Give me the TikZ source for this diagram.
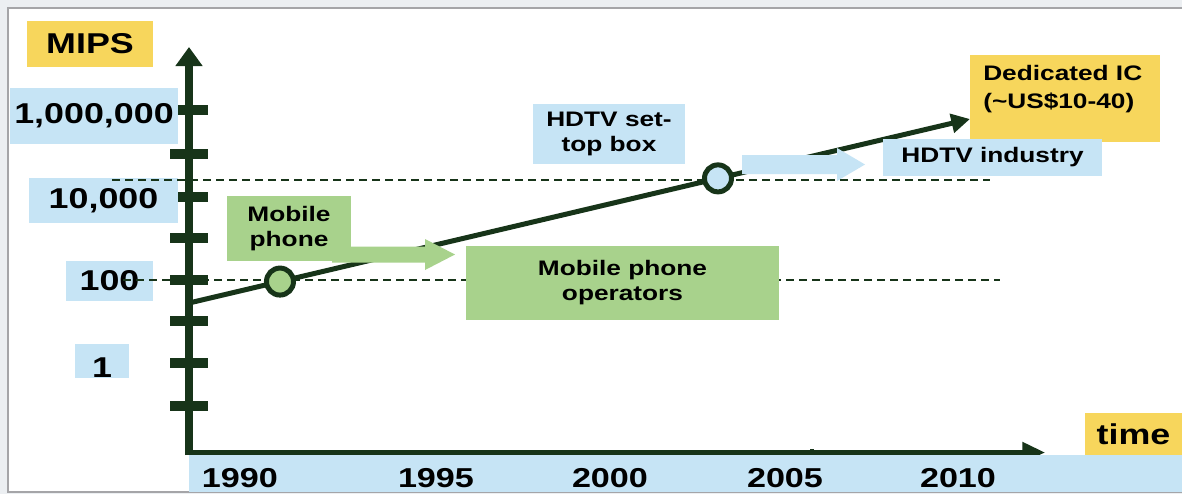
\documentclass[tikz,border=0pt]{standalone}
\usepackage{fontspec}
\setmainfont{Liberation Sans}
\usetikzlibrary{arrows.meta,calc}

\definecolor{axisgreen}{RGB}{23,52,25}
\definecolor{paleblue}{RGB}{198,228,245}
\definecolor{paleyellow}{RGB}{247,214,92}
\definecolor{palegreen}{RGB}{168,210,140}
\definecolor{framegray}{RGB}{165,165,168}
\definecolor{outergray}{RGB}{236,239,242}

% labels are set a little wider than the plain face
\newcommand{\wide}[1]{\scalebox{1.25}[1]{#1}}

\begin{document}
\begin{tikzpicture}[x=0.75pt,y=-0.75pt,
  sz/.style 2 args={minimum width=#1*0.75pt, minimum height=#2*0.75pt},
  panel/.style={inner sep=0pt, outer sep=0pt, anchor=north west},
  bluepanel/.style={panel, fill=paleblue},
  yellowpanel/.style={panel, fill=paleyellow},
  greenpanel/.style={panel, fill=palegreen},
  bigtxt/.style={font=\bfseries\fontsize{21.5}{25}\selectfont},
  smalltxt/.style={font=\bfseries\fontsize{15.75}{18.75}\selectfont, align=center},
  yeartxt/.style={font=\bfseries\fontsize{20.5}{24}\selectfont, anchor=base, inner sep=0pt},
  tickmark/.style={draw=axisgreen, line width=7.5pt},
  guide/.style={draw=axisgreen, line width=2.1pt, dash pattern=on 6pt off 3.75pt},
  milestone/.style={circle, draw=axisgreen, line width=3.75pt, minimum size=20.25pt, inner sep=0pt},
]
\useasboundingbox (0,0) rectangle (1182,494);

% slide background and frame
\fill[outergray] (0,0) rectangle (1182,494);
\filldraw[fill=white, draw=framegray, line width=1.5pt] (8,8) rectangle (1200,492);

% axes
\coordinate (yfoot) at (189,455);
\coordinate (ytop) at (189,47);
\coordinate (xfoot) at (185,452.5);
\coordinate (xtip) at (1045,452.5);

\foreach \ty in {110,154,197,238,280,321,363,406}
  \draw[tickmark] (170,\ty) -- (208,\ty);
\draw[axisgreen, line width=6pt, -{Triangle[width=19.5pt,length=14.25pt]}] (yfoot) -- (ytop);
\draw[axisgreen, line width=3.75pt, -{Triangle[width=15pt,length=17pt]}] (xfoot) -- (xtip);
\fill[axisgreen] (810,449) rectangle (814,455);

% value labels on the vertical axis
\node[bluepanel, sz={168}{56}, bigtxt] (v1m) at (10,88) {\wide{1,000,000}};
\node[bluepanel, sz={149}{45}, bigtxt] (v10k) at (29,178) {\wide{10,000}};
\node[bluepanel, sz={87}{40}, bigtxt] (v100) at (66,261) {\wide{100}};
\node[bluepanel, sz={54}{34}, bigtxt, text height=24.75pt, text depth=0.75pt] (v1) at (75,344) {\wide{1}};

% reference levels
\coordinate (hiA) at (112,180);
\coordinate (hiB) at (990,180);
\coordinate (loA) at (123,280);
\coordinate (loB) at (1000,280);
\draw[guide] (hiA) -- (hiB);
\draw[guide] (loA) -- (loB);

% growth trend
\coordinate (tA) at (189,303);
\coordinate (tB) at (970,119);
\draw[axisgreen, line width=3.75pt, -{Triangle[width=14pt,length=14pt]}] (tA) -- (tB);
\node[milestone, fill=palegreen] (mobdot) at ($(tA)!0.1165!(tB)$) {};
\node[milestone, fill=paleblue] (hddot) at ($(tA)!0.6773!(tB)$) {};

% block arrows towards the industries
\fill[palegreen] (332,246.5) -- (425,246.5) -- (425,239) -- (455,254.5) -- (425,270) -- (425,262.5) -- (332,262.5) -- cycle;
\fill[paleblue] (742,155) -- (837,155) -- (837,148) -- (865,164.5) -- (837,181) -- (837,174) -- (742,174) -- cycle;

% application boxes
\node[greenpanel, sz={124}{65}, smalltxt] (mobile) at (227,196) {\wide{Mobile}\\\wide{phone}};
\node[greenpanel, sz={313}{74}, smalltxt] (operators) at (466,246) {\wide{Mobile phone}\\\wide{operators}};
\node[bluepanel, sz={152}{60}, smalltxt] (settop) at (533,104) {\wide{HDTV set-}\\\wide{top box}};
\node[yellowpanel, sz={190}{87}] (dedbox) at (970,55) {};
\node[anchor=north west, inner sep=0pt, align=left, font=\bfseries\fontsize{15.75}{21}\selectfont] (dedtext) at (983,65)
  {\wide{Dedicated IC}\\\wide{(\textasciitilde US\$10-40)}};
\node[bluepanel, sz={219}{37}, smalltxt] (hdind) at (883,139) {\wide{HDTV industry}};

% time axis labels
\node[bluepanel, sz={993}{37}] (yearbar) at (189,455) {};
\node[yeartxt] (y1990) at (240,487) {\wide{1990}};
\node[yeartxt] (y1995) at (436,487) {\wide{1995}};
\node[yeartxt] (y2000) at (610,487) {\wide{2000}};
\node[yeartxt] (y2005) at (785,487) {\wide{2005}};
\node[yeartxt] (y2010) at (958,487) {\wide{2010}};
\node[yellowpanel, sz={97}{42}, bigtxt] (timelbl) at (1085,413) {\wide{time}};

\node[yellowpanel, sz={126}{46}, bigtxt] (mips) at (27,21) {\wide{MIPS}};
\end{tikzpicture}
\end{document}
